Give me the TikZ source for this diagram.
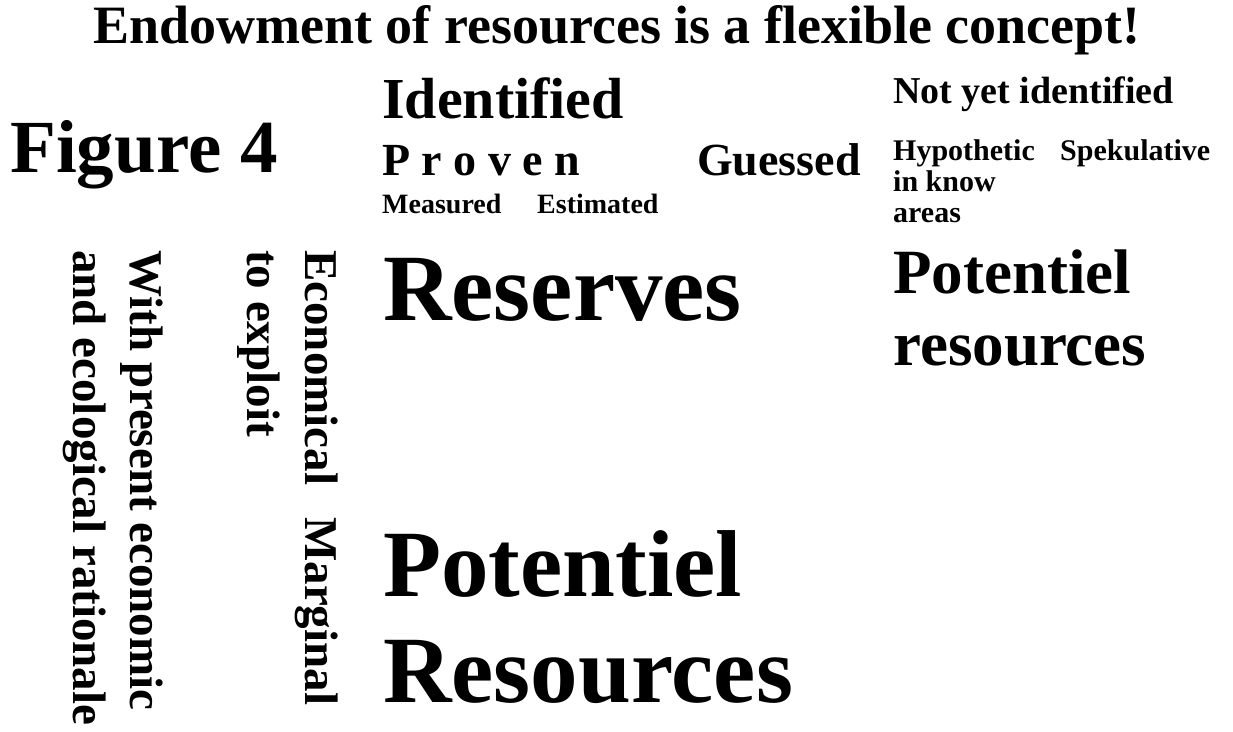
\documentclass[tikz,border=0pt]{standalone}
\usepackage{fontspec}
\setmainfont{Liberation Serif}
\usetikzlibrary{calc}

\begin{document}
\begin{tikzpicture}[x=1pt,y=-1pt,
  txt/.style={anchor=base west,inner sep=0pt,font=\bfseries},
  vtxt/.style={txt,rotate=-90}
]
\useasboundingbox (0,0) rectangle (1233,731);

%heading
\node[txt,anchor=base,font=\bfseries\fontsize{54}{60}\selectfont] (title) at (617,43) {Endowment of resources is a flexible concept!};
\node[txt,font=\bfseries\fontsize{75}{80}\selectfont] (fig) at (10,172) {Figure 4};

%identified
\node[txt,font=\bfseries\fontsize{58}{64}\selectfont] (ident) at (382,118) {Identified};
\node[txt,font=\bfseries\fontsize{46}{52}\selectfont] (proven) at (382,175) {P r o v e n};
\node[txt,font=\bfseries\fontsize{46}{52}\selectfont] (guess) at (697,175) {Guessed};
\node[txt,font=\bfseries\fontsize{28}{32}\selectfont] (meas) at (382,213) {Measured};
\node[txt,font=\bfseries\fontsize{28}{32}\selectfont] (estim) at (537,213) {Estimated};

%not yet identified
\node[txt,font=\bfseries\fontsize{38}{42}\selectfont] (notyet) at (893,103) {Not yet identified};
\node[txt,font=\bfseries\fontsize{30}{32}\selectfont] (hypo1) at (893,160) {Hypothetic};
\node[txt,font=\bfseries\fontsize{30}{32}\selectfont] (hypo2) at (893,191) {in know};
\node[txt,font=\bfseries\fontsize{30}{32}\selectfont] (hypo3) at (893,222) {areas};
\node[txt,font=\bfseries\fontsize{30}{32}\selectfont] (spek) at (1060,160) {Spekulative};

%big words
\node[txt,font=\bfseries\fontsize{95}{100}\selectfont] (reserv) at (383,320) {Reserves};
\node[txt,font=\bfseries\fontsize{63}{68}\selectfont] (potr1) at (893,293) {Potentiel};
\node[txt,font=\bfseries\fontsize{63}{68}\selectfont] (potr2) at (893,365) {resources};
\node[txt,font=\bfseries\fontsize{95}{100}\selectfont] (potb1) at (383,596) {Potentiel};
\node[txt,font=\bfseries\fontsize{95}{100}\selectfont] (potb2) at (383,702) {Resources};

%vertical labels
\node[vtxt,font=\bfseries\fontsize{47}{52}\selectfont] (econ1) at (305,250) {Economical\hspace{32pt}Marginal};
\node[vtxt,font=\bfseries\fontsize{47}{52}\selectfont] (econ2) at (247,250) {to exploit};
\node[vtxt,font=\bfseries\fontsize{47}{52}\selectfont] (rat1) at (130,250) {With present economic};
\node[vtxt,font=\bfseries\fontsize{47}{52}\selectfont] (rat2) at (73,250) {and ecological rationale};
\end{tikzpicture}
\end{document}
